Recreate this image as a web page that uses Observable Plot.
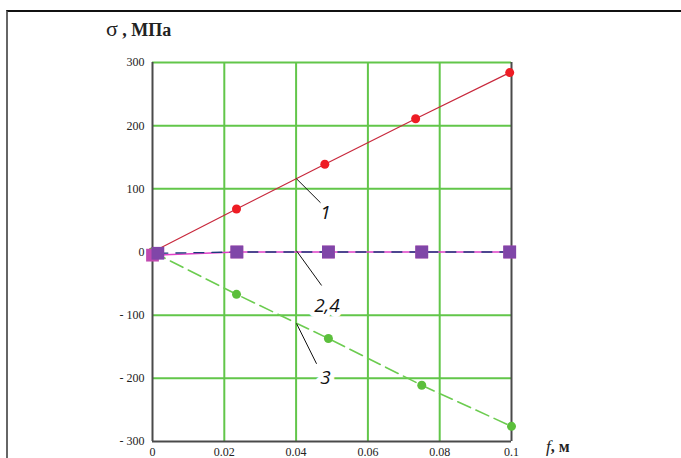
<!DOCTYPE html>
<html>
<head>
<meta charset="utf-8">
<script src="https://cdn.jsdelivr.net/npm/d3@7"></script>
<script src="https://cdn.jsdelivr.net/npm/@observablehq/plot@0.6"></script>
<style>
  html, body { margin: 0; padding: 0; background: #fff; }
  #wrap { position: relative; width: 681px; height: 458px; overflow: hidden; }
  #border { position: absolute; left: 6px; top: 10px; width: 700px; height: 500px;
            border-top: 2px solid #111; border-left: 2px solid #666; pointer-events: none; }
</style>
</head>
<body>
<div id="wrap"><div id="border"></div></div>
<script>
// ---- data ----
const xTicks = [0, 0.02, 0.04, 0.06, 0.08, 0.1];
const yTicks = [-300, -200, -100, 0, 100, 200, 300];
const f1 = [0, 0.0234, 0.048, 0.0733, 0.0995];
const s1 = [0, 68, 139, 211, 284];
const f3 = [0, 0.0234, 0.049, 0.075, 0.1];
const s3 = [0, -67, -137, -211, -276];
const f2 = [0, 0.0235, 0.049, 0.075, 0.0995];
const s2 = [-5, 0, 0, 0, 0];
const f4 = [0.0015, 0.0235, 0.049, 0.075, 0.0995];
const s4 = [-2, 0, 0, 0, 0];
const labels = ["1", "2,4", "3"];
const labelF = [0.0482, 0.0486, 0.0482];
const labelS = [62, -86, -199];
const leaderF1 = [0.0401, 0.0401, 0.0401];
const leaderS1 = [116, 2, -113];
const leaderF2 = [0.0468, 0.0471, 0.0457];
const leaderS2 = [78, -53, -177];

const toPts = (fs, ss) => fs.map((f, i) => ({f, s: ss[i]}));
const d1 = toPts(f1, s1), d2 = toPts(f2, s2), d3s = toPts(f3, s3), d4 = toPts(f4, s4);
const lab = labels.map((t, i) => ({t, f: labelF[i], s: labelS[i]}));
const leaders = labels.map((t, i) => ({f1: leaderF1[i], s1: leaderS1[i], f2: leaderF2[i], s2: leaderS2[i]}));

const green = "#62c64a";
const frameC = "#4a4a4a";

const chart = Plot.plot({
  width: 681,
  height: 458,
  marginLeft: 152,
  marginRight: 170,
  marginTop: 62,
  marginBottom: 17,
  style: {background: "transparent", fontFamily: "'Liberation Serif', serif", fontSize: "12px", color: "#222"},
  x: {domain: [0, 0.1], label: null},
  y: {domain: [-300, 300], label: null},
  marks: [
    Plot.gridX([0.02, 0.04, 0.06, 0.08], {stroke: green, strokeOpacity: 1, strokeWidth: 2}),
    Plot.gridY([-200, -100, 100, 200], {stroke: green, strokeOpacity: 1, strokeWidth: 2}),
    Plot.ruleY([300], {stroke: green, strokeWidth: 2}),
    Plot.ruleX([0, 0.1], {stroke: frameC, strokeWidth: 2}),
    Plot.ruleY([-300], {stroke: frameC, strokeWidth: 2}),
    Plot.axisY({ticks: yTicks, tickSize: 0, tickPadding: 8, tickFormat: d => d < 0 ? "- " + (-d) : String(d), fontSize: 12, fill: "#222"}),
    Plot.axisX({ticks: xTicks, tickSize: 0, tickPadding: 6, tickFormat: d => String(+d.toFixed(2)), fontSize: 12, fill: "#222"}),
    // series 1
    Plot.line(d1, {x: "f", y: "s", stroke: "#c8283c", strokeWidth: 1.2}),
    // series 3
    Plot.line(d3s, {x: "f", y: "s", stroke: "#6ccc50", strokeWidth: 1.6, strokeDasharray: "14,6"}),
    // series 2 & 4
    Plot.line(d2, {x: "f", y: "s", stroke: "#e040c8", strokeWidth: 1.5}),
    Plot.line(d4, {x: "f", y: "s", stroke: "#1c3a7a", strokeWidth: 1.3, strokeDasharray: "10,8"}),
    Plot.dot(d1, {x: "f", y: "s", r: 4.5, fill: "#ee1c24", stroke: "none"}),
    Plot.dot(d3s, {x: "f", y: "s", r: 4.5, fill: "#5cbf3c", stroke: "none"}),
    Plot.dot(d2, {x: "f", y: "s", symbol: "square", r: 7.2, fill: "#c04ab0", stroke: "none"}),
    Plot.dot(d4, {x: "f", y: "s", symbol: "square", r: 7.2, fill: "#8046a8", stroke: "none"}),
    // leader lines
    Plot.link(leaders, {x1: "f1", y1: "s1", x2: "f2", y2: "s2", stroke: "#111", strokeWidth: 1}),
    Plot.text(lab, {x: "f", y: "s", text: "t", fontSize: 19, fontStyle: "italic",
      fontFamily: "'Open Sans', sans-serif", fill: "#111", stroke: "white", strokeWidth: 10, paintOrder: "stroke"})
  ]
});

const svg = d3.select(chart);
const tl = svg.append("text")
  .attr("x", 106).attr("y", 36)
  .attr("text-anchor", "start")
  .attr("font-family", "'Liberation Serif', serif")
  .attr("fill", "#222");
tl.append("tspan").attr("font-size", 22).text("σ");
tl.append("tspan").attr("font-size", 18).attr("font-weight", "bold").text(" , МПа");
const xl = svg.append("text")
  .attr("x", 546).attr("y", 452)
  .attr("text-anchor", "start")
  .attr("font-family", "'Liberation Serif', serif")
  .attr("font-size", 17).attr("fill", "#222");
xl.append("tspan").attr("font-style", "italic").attr("font-family", "'Liberation Serif', serif").text("f");
xl.append("tspan").attr("font-weight", "bold").attr("font-size", 16).text(", м");

document.getElementById("wrap").prepend(chart);
</script>
</body>
</html>
